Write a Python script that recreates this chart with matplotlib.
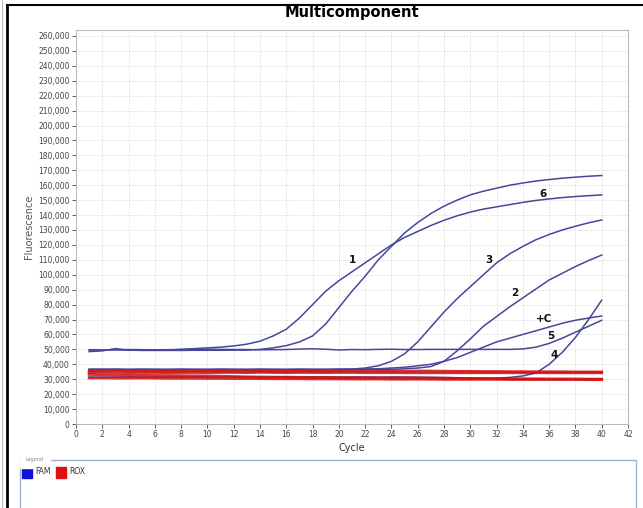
import numpy as np
import matplotlib.pyplot as plt
from matplotlib.ticker import MultipleLocator, FuncFormatter
from matplotlib.patches import Rectangle
from matplotlib.lines import Line2D

cycles = list(range(1, 41))

# FAM curves (fluorescence, thousands)
fam_a = [49.5, 49.5, 49.8, 49.5, 49.5, 49.5, 49.6, 50.0, 50.5, 51.0,
         51.5, 52.3, 53.5, 55.5, 59.0, 63.5, 71.0, 80.0, 89.0, 96.0,
         102.0, 108.0, 114.0, 120.0, 125.0, 129.0, 133.0, 136.5, 139.5, 142.0,
         144.0, 145.5, 147.0, 148.5, 149.8, 150.8, 151.7, 152.4, 153.0, 153.5]
fam_b = [48.5, 49.0, 50.5, 49.5, 49.3, 49.3, 49.3, 49.3, 49.4, 49.4,
         49.4, 49.5, 49.5, 50.0, 51.0, 52.5, 55.0, 59.0, 67.0, 78.0,
         89.0, 99.0, 110.0, 119.0, 128.0, 135.0, 141.0, 146.0, 150.0, 153.5,
         156.0, 158.0, 160.0, 161.5, 162.8, 163.8, 164.7, 165.4, 166.0, 166.5]
fam_5 = [49.8, 49.6, 49.7, 49.9, 49.8, 49.7, 49.8, 49.9, 50.0, 50.1,
         50.0, 49.9, 49.9, 49.7, 49.8, 49.9, 50.2, 50.4, 50.1, 49.6,
         49.9, 49.8, 50.0, 50.1, 49.9, 49.9, 50.0, 50.0, 50.0, 50.0,
         50.0, 50.0, 50.0, 50.3, 51.5, 54.0, 57.5, 61.5, 65.5, 69.5]
fam_3 = [36.5, 36.6, 36.5, 36.4, 36.5, 36.5, 36.4, 36.5, 36.5, 36.4,
         36.5, 36.5, 36.4, 36.5, 36.5, 36.4, 36.5, 36.5, 36.5, 36.6,
         36.8, 37.5, 39.0, 42.0, 47.0, 55.0, 65.0, 75.0, 84.0, 92.0,
         100.0, 108.0, 114.0, 119.0, 123.5, 127.0, 130.0, 132.5, 134.8, 136.7]
fam_2 = [36.3, 36.4, 36.3, 36.3, 36.4, 36.3, 36.3, 36.4, 36.3, 36.3,
         36.4, 36.3, 36.3, 36.4, 36.3, 36.3, 36.4, 36.3, 36.3, 36.4,
         36.4, 36.5, 36.5, 36.6, 37.0, 37.5, 38.5, 42.0, 49.0, 57.0,
         65.5, 72.0, 78.5, 84.5, 90.5, 96.5, 101.0, 105.5, 109.5, 113.2]
fam_c = [36.8, 36.7, 36.8, 36.7, 36.8, 36.7, 36.7, 36.8, 36.7, 36.7,
         36.8, 36.7, 36.7, 36.8, 36.7, 36.7, 36.8, 36.7, 36.7, 36.8,
         36.8, 36.9, 37.0, 37.5, 38.0, 39.0, 40.0, 42.0, 44.5, 48.0,
         51.5, 55.0, 57.5, 60.0, 62.5, 65.0, 67.5, 69.5, 71.0, 72.4]
fam_4 = [31.5, 31.4, 31.5, 31.6, 31.4, 31.5, 31.5, 31.4, 31.5, 31.5,
         31.4, 31.5, 31.5, 31.4, 31.5, 31.5, 31.4, 31.5, 31.5, 31.4,
         31.5, 31.5, 31.4, 31.5, 31.5, 31.4, 31.3, 31.2, 31.0, 30.8,
         30.7, 30.8, 31.2, 32.2, 34.2, 40.0, 48.0, 58.0, 70.0, 83.0]

# ROX curves
rox_1 = [35.6, 35.8, 36.0, 35.7, 35.5, 35.5, 35.4, 35.5, 35.6, 35.5,
         35.4, 35.5, 35.5, 35.6, 35.3, 35.4, 35.5, 35.5, 35.4, 35.5,
         35.5, 35.4, 35.5, 35.5, 35.4, 35.5, 35.5, 35.4, 35.3, 35.3,
         35.2, 35.2, 35.1, 35.1, 35.0, 35.0, 35.0, 34.9, 34.9, 34.9]
rox_2 = [34.5, 34.6, 34.5, 34.4, 34.5, 34.5, 34.4, 34.5, 34.5, 34.4,
         34.5, 34.5, 34.4, 34.6, 34.5, 34.4, 34.5, 34.5, 34.4, 34.5,
         34.5, 34.4, 34.4, 34.4, 34.3, 34.3, 34.3, 34.3, 34.3, 34.3,
         34.3, 34.3, 34.3, 34.3, 34.3, 34.3, 34.3, 34.3, 34.3, 34.3]
rox_3 = [33.2, 33.0, 32.8, 32.6, 32.6, 32.5, 32.5, 32.4, 32.3, 32.2,
         32.0, 31.8, 31.6, 31.5, 31.4, 31.4, 31.3, 31.2, 31.2, 31.1,
         31.0, 31.0, 30.9, 30.9, 30.8, 30.8, 30.7, 30.6, 30.6, 30.5,
         30.5, 30.4, 30.4, 30.3, 30.3, 30.2, 30.2, 30.2, 30.1, 30.1]
rox_4 = [30.8, 30.8, 30.7, 30.7, 30.8, 30.7, 30.6, 30.6, 30.6, 30.5,
         30.5, 30.4, 30.4, 30.4, 30.3, 30.3, 30.3, 30.2, 30.2, 30.2,
         30.1, 30.1, 30.1, 30.0, 30.0, 30.0, 30.0, 29.9, 29.9, 29.9,
         29.9, 29.9, 29.8, 29.8, 29.8, 29.8, 29.8, 29.8, 29.7, 29.7]

labels = ["1", "6", "3", "2", "+C", "5", "4"]
label_x = [21.0, 35.5, 31.4, 33.4, 35.6, 36.1, 36.4]
label_y = [110.0, 154.0, 110.0, 88.0, 70.5, 59.0, 46.5]

W, H = 643, 508
fig = plt.figure(figsize=(W / 100, H / 100), dpi=100)
fig.patch.set_facecolor("white")

ax = fig.add_axes([76 / W, (H - 424) / H, 552 / W, 394 / H])
blue = "#47479a"
for s in [fam_a, fam_b, fam_5, fam_3, fam_2, fam_c, fam_4]:
    ax.plot(cycles, np.array(s) * 1000, color=blue, lw=1.1, zorder=3)
for s in [rox_1, rox_2, rox_3, rox_4]:
    ax.plot(cycles, np.array(s) * 1000, color="#d01010", lw=2.0, alpha=0.85, zorder=4)

for t, x, y in zip(labels, label_x, label_y):
    ax.text(x, y * 1000, t, fontsize=7.5, fontweight="bold", color="#111111",
            family="Liberation Sans Narrow", ha="center", va="center", zorder=5)

ax.set_xlim(0, 42)
ax.set_ylim(0, 264000)
ax.xaxis.set_major_locator(MultipleLocator(2))
ax.yaxis.set_major_locator(MultipleLocator(10000))
ax.yaxis.set_major_formatter(FuncFormatter(lambda v, p: f"{int(v):,}"))
ax.tick_params(labelsize=5.5, colors="#444444", length=3, width=0.6, pad=1.5)
ax.grid(True, ls=(0, (1, 1.5)), color="#cfcfcf", lw=0.6)
for sp in ax.spines.values():
    sp.set_color("#bbbbbb")
    sp.set_linewidth(0.8)
ax.set_xlabel("Cycle", fontsize=7, color="#333333", labelpad=3)
ax.set_ylabel("Fluorescence", fontsize=7, color="#555555", labelpad=3)
ax.set_title("Multicomponent", fontsize=10.5, fontweight="bold", pad=9)

# legend panel
fig.add_artist(Line2D([20 / W, 20 / W, 636 / W, 636 / W],
                      [0, (H - 460) / H, (H - 460) / H, 0],
                      color="#9fb3c8", lw=1.0))
fig.text(26 / W, (H - 460) / H, "Legend", fontsize=3.5, color="#888888",
         va="center", ha="left", backgroundcolor="white")
fig.add_artist(Rectangle((22 / W, (H - 478) / H), 10 / W, 11 / H,
                         color="#1010d8", transform=fig.transFigure))
fig.text(35 / W, (H - 472) / H, "FAM", fontsize=5.5, color="#333333", va="center")
fig.add_artist(Rectangle((56 / W, (H - 478) / H), 10 / W, 11 / H,
                         color="#e01010", transform=fig.transFigure))
fig.text(69 / W, (H - 472) / H, "ROX", fontsize=5.5, color="#333333", va="center")

# screenshot frame edges
fig.add_artist(Line2D([7 / W, 7 / W], [0, (H - 5) / H], color="black", lw=2))
fig.add_artist(Line2D([7 / W, 1], [(H - 5) / H, (H - 5) / H], color="black", lw=1.5))
fig.add_artist(Line2D([1.5 / W, 1.5 / W], [0, 1], color="#bbbbbb", lw=0.8))

fig.savefig("out.png", dpi=100)
